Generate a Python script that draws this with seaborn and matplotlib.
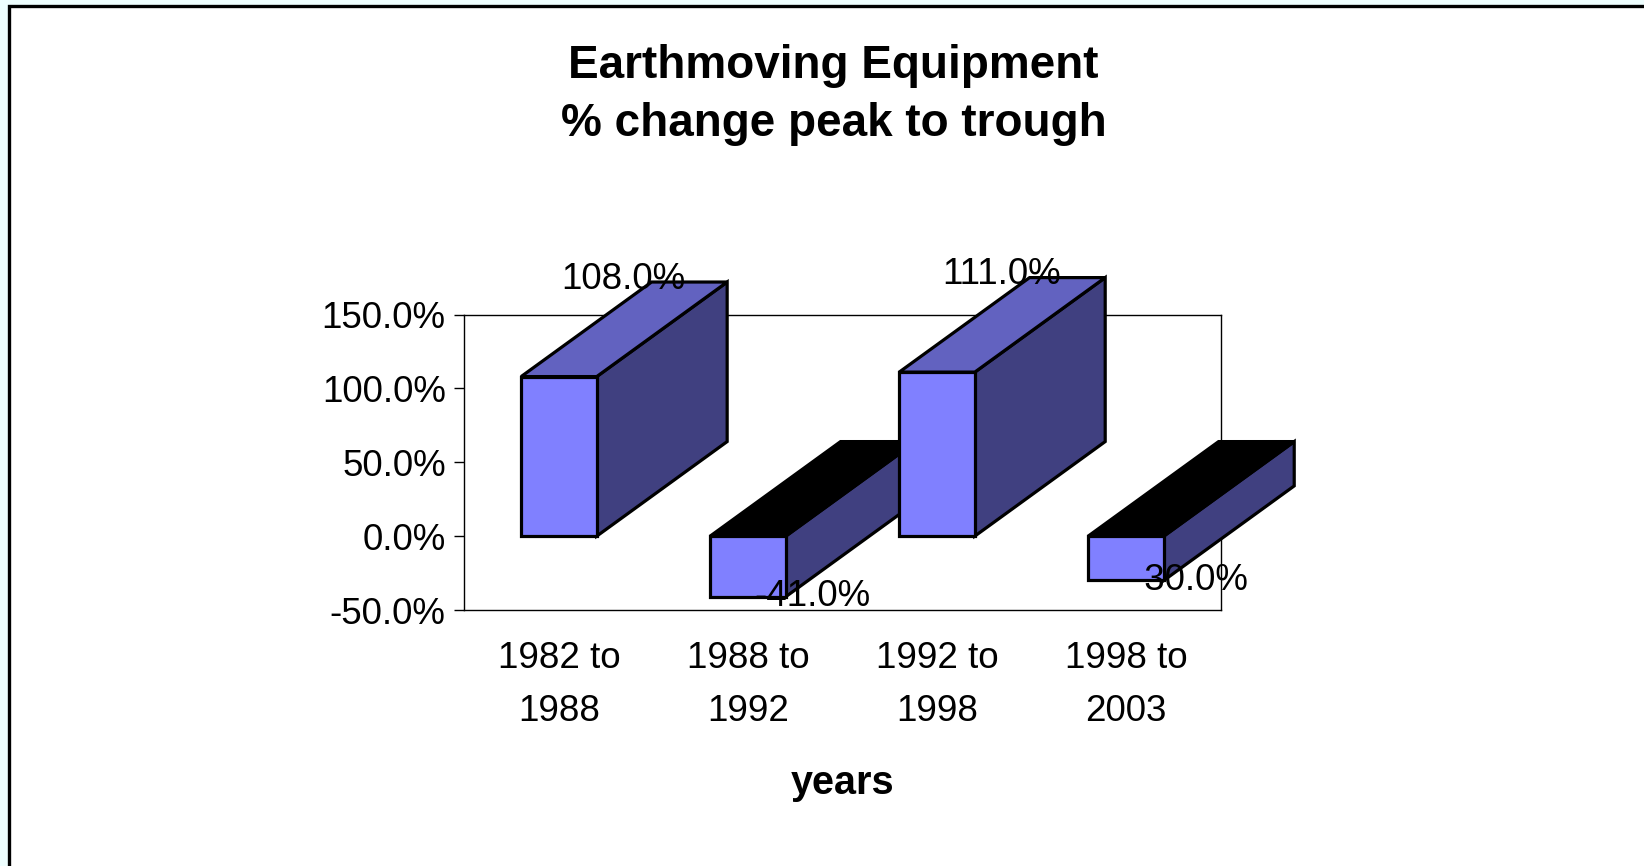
import matplotlib
matplotlib.use("Agg")
import pandas as pd
import seaborn as sns
import matplotlib.pyplot as plt
from matplotlib.patches import Polygon, Rectangle
from matplotlib.ticker import FuncFormatter

# chart data
periods = ["1982 to\n1988", "1988 to\n1992", "1992 to\n1998", "1998 to\n2003"]
pct_change = [108.0, -41.0, 111.0, -30.0]
y_ticks = [-50, 0, 50, 100, 150]

# look of the fake 3d columns
FRONT = "#8080ff"
SIDE = "#404080"
TOP = "#6262c0"
DEPTH_X = 0.69   # in category units
DEPTH_Y = 64     # in percent units
EDGE_W = 2.3

sns.set_theme(style="white")
plt.rcParams["font.family"] = ["Liberation Sans", "DejaVu Sans"]
plt.rcParams["text.color"] = "black"
plt.rcParams["axes.labelcolor"] = "black"

fig = plt.figure(figsize=(16.44, 8.66), dpi=100)
fig.patch.set_facecolor("#eefefe")
# white chart area with black border (cropped at right and bottom)
fig.add_artist(Rectangle((9 / 1644, -0.05), 1.1, 1.05 - 6 / 866,
                         transform=fig.transFigure, facecolor="white",
                         edgecolor="black", linewidth=2.4, zorder=-1))

ax = fig.add_axes([0.2825, 0.2956, 0.4599, 0.3412])

df = pd.DataFrame({"period": periods, "change": pct_change})
sns.barplot(data=df, x="period", y="change", width=0.4, color=FRONT,
            saturation=1, edgecolor="black", linewidth=EDGE_W,
            errorbar=None, ax=ax)

bars = list(ax.patches)
for i, p in enumerate(bars):
    x0, w, h = p.get_x(), p.get_width(), p.get_height()
    top, bot = max(0, h), min(0, h)
    side = Polygon([(x0 + w, bot), (x0 + w + DEPTH_X, bot + DEPTH_Y),
                    (x0 + w + DEPTH_X, top + DEPTH_Y), (x0 + w, top)],
                   closed=True, facecolor=SIDE, edgecolor="black",
                   linewidth=EDGE_W, clip_on=False, zorder=3 + 2 * i)
    lid = Polygon([(x0, top), (x0 + DEPTH_X, top + DEPTH_Y),
                   (x0 + w + DEPTH_X, top + DEPTH_Y), (x0 + w, top)],
                  closed=True, facecolor=TOP if h > 0 else "black",
                  edgecolor="black", linewidth=EDGE_W, clip_on=False,
                  zorder=3 + 2 * i)
    ax.add_patch(side)
    ax.add_patch(lid)
    p.set_zorder(4 + 2 * i)
    p.set_clip_on(False)

    v = pct_change[i]
    ax.text(x0 + w / 2 + 0.34, v + (DEPTH_Y + 2 if v > 0 else 0), f"{v:.1f}%",
            ha="center", va="center", fontsize=26.5, zorder=30, clip_on=False)

ax.set_xlim(-0.5, 3.5)
ax.set_ylim(-50, 150)
ax.set_yticks(y_ticks)
ax.yaxis.set_major_formatter(FuncFormatter(lambda v, _: f"{v:.1f}%"))
ax.tick_params(axis="y", left=True, direction="out", length=7.5, width=1,
               pad=6, labelsize=26.5, colors="black")
ax.tick_params(axis="x", bottom=False, length=0, pad=22, labelsize=26.5,
               colors="black")
for lbl in ax.get_xticklabels():
    lbl.set_linespacing(1.68)

for s in ax.spines.values():
    s.set_color("black")
    s.set_linewidth(1)

ax.set_ylabel("")
ax.set_xlabel("years", fontsize=28.5, fontweight="bold", color="black")
ax.xaxis.set_label_coords(0.5, -(783 - 610) / 295.5)
ax.xaxis.label.set_va("center")

fig.text(0.507, 1 - 66 / 866, "Earthmoving Equipment", ha="center",
         va="center", fontsize=33, fontweight="bold")
fig.text(0.507, 1 - 124 / 866, "% change peak to trough", ha="center",
         va="center", fontsize=33, fontweight="bold")

fig.savefig("out.png", dpi=100)
